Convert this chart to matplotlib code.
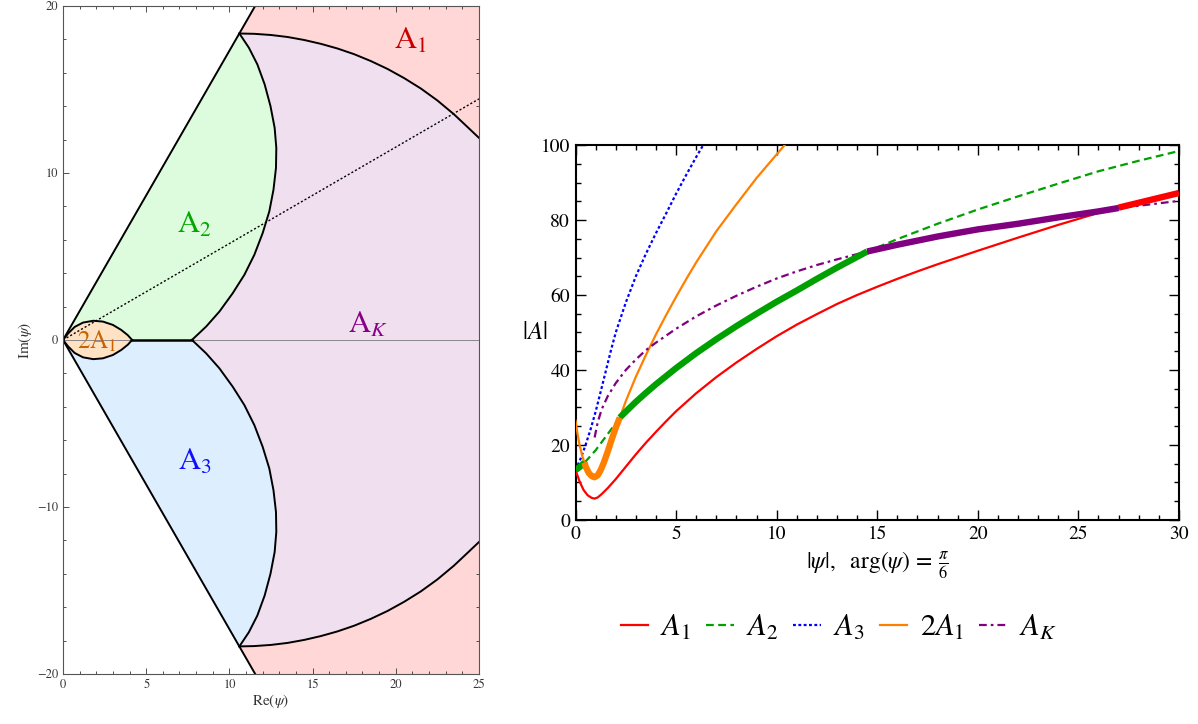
import numpy as np
import matplotlib
matplotlib.use("Agg")
import matplotlib.pyplot as plt
from matplotlib.ticker import MultipleLocator

plt.rcParams['font.family'] = ['STIXGeneral', 'DejaVu Serif']
plt.rcParams['mathtext.fontset'] = 'stix'

# ---------------- Left panel: region boundaries -------------
ray_end = (11.55, 20.0)
a2_arc_x = [7.75, 8.6, 9.4, 10.2, 10.9, 11.5, 12.0, 12.4, 12.65, 12.8, 12.82, 12.72,
            12.47, 12.12, 11.68, 11.17, 10.6]
a2_arc_y = [0.0, 0.8, 1.7, 2.8, 3.9, 5.1, 6.4, 7.7, 9.0, 10.3, 11.5, 12.7,
            14.0, 15.3, 16.5, 17.5, 18.35]
big_arc_x = [10.6, 11.5, 12.5, 13.5, 14.5, 15.5, 16.5, 17.5, 18.5, 19.5, 20.5, 21.5,
             22.5, 23.5, 24.3, 25.0]
big_arc_y = [18.35, 18.33, 18.26, 18.14, 17.96, 17.73, 17.45, 17.11, 16.70, 16.23, 15.68,
             15.06, 14.34, 13.51, 12.76, 12.1]
lens_x = [0.0, 0.3, 0.7, 1.2, 1.82, 2.4, 3.0, 3.5, 3.9, 4.15]
lens_y = [0.0, 0.38, 0.78, 1.04, 1.15, 1.1, 0.9, 0.6, 0.28, 0.0]
stokes_start = 7.75
dotted_angle_deg = 30

left_labels = [r'$\mathrm{A}_1$', r'$\mathrm{A}_2$', r'$\mathrm{A}_3$', r'$\mathrm{A}_K$', r'$2\mathrm{A}_1$']
left_label_pos = [(20.9, 17.9), (7.9, 6.9), (7.9, -7.3), (18.3, 0.9), (2.05, -0.1)]
left_label_col = ['#C80000', '#00A800', '#1010FF', '#880088', '#C86400']
left_label_size = [22, 22, 22, 22, 18]

# ---------------- Right panel: curves |A| vs |psi| -----------------------------
a1_x = [0, 0.2, 0.4, 0.6, 0.8, 0.95, 1.1, 1.3, 1.6, 2.0, 2.5, 3.0, 3.5, 4.0, 4.5, 5.0,
        6.0, 7.0, 8.0, 9.0, 10.0, 11.0, 12.0, 13.0, 14.0, 15.0, 16.0, 17.0, 18.0, 19.0,
        20.0, 22.0, 24.0, 26.0, 27.0, 28.0, 30.0]
a1_y = [13.3, 10.3, 8.0, 6.6, 5.9, 5.7, 6.0, 6.9, 8.5, 10.9, 14.2, 17.5, 20.6, 23.5, 26.3, 29.0,
        33.8, 38.1, 42.0, 45.6, 49.0, 52.1, 54.9, 57.6, 60.0, 62.2, 64.3, 66.3, 68.2, 70.0,
        71.8, 75.3, 78.7, 81.9, 83.3, 84.6, 87.2]

a2_x = [0, 0.2, 0.45, 0.7, 1.0, 1.5, 2.0, 2.2, 2.5, 3.0, 3.5, 4.0, 5.0, 6.0, 7.0, 8.0, 9.0,
        10.0, 11.0, 12.0, 13.0, 14.5, 16.0, 18.0, 20.0, 22.0, 24.0, 26.0, 28.0, 30.0]
a2_y = [13.3, 14.1, 15.3, 16.8, 18.6, 22.2, 25.8, 27.3, 28.9, 31.5, 33.9, 36.2, 40.5, 44.5,
        48.2, 51.7, 55.0, 58.2, 61.2, 64.3, 67.3, 71.6, 74.9, 79.0, 82.8, 86.3, 89.7, 93.0,
        95.8, 98.4]

a3_x = [0, 0.25, 0.5, 0.75, 1.0, 1.25, 1.5, 1.75, 2.0, 2.5, 3.0, 3.5, 4.0, 4.5, 5.0, 5.5,
        6.0, 6.35]
a3_y = [13.3, 16.3, 20.0, 24.2, 28.9, 34.2, 39.6, 45.0, 50.0, 58.0, 65.0, 71.0, 76.5, 81.7,
        87.0, 92.0, 96.8, 100.0]

twoa1_x = [0, 0.1, 0.2, 0.35, 0.45, 0.5, 0.65, 0.8, 0.95, 1.1, 1.25, 1.4, 1.6, 1.8, 2.0,
           2.2, 2.5, 3.0, 3.5, 4.0, 4.5, 5.0, 5.5, 6.0, 7.0, 8.0, 9.0, 10.0, 10.4]
twoa1_y = [26.5, 23.0, 20.0, 16.8, 15.3, 14.3, 12.6, 11.7, 11.4, 11.9, 13.3, 15.2, 18.2,
           21.5, 24.6, 27.3, 31.7, 38.2, 44.0, 49.5, 54.6, 59.5, 64.2, 68.7, 77.0, 84.2,
           91.2, 97.5, 100.0]

ak_x = [0.95, 1.1, 1.3, 1.6, 2.0, 2.5, 3.0, 3.5, 4.0, 5.0, 6.0, 7.0, 8.0, 9.0, 10.0, 11.0,
        12.0, 13.0, 14.5, 16.0, 18.0, 20.0, 22.0, 24.0, 26.0, 27.0, 28.0, 30.0]
ak_y = [22.0, 26.0, 29.5, 33.0, 36.5, 40.0, 42.8, 45.3, 47.3, 51.0, 54.3, 57.2, 59.8, 62.2,
        64.4, 66.3, 68.0, 69.5, 71.6, 73.4, 75.6, 77.5, 79.0, 80.7, 82.3, 83.2, 83.8, 85.1]

series_names = [r'$A_1$', r'$A_2$', r'$A_3$', r'$2A_1$', r'$A_K$']
series_colors = ['#FF0000', '#00A000', '#0000FF', '#FF8000', '#800080']
# x-ranges where each series is the dominant saddle along arg(psi)=pi/6
thick_ranges = {0: [(27.0, 30.0)], 1: [(0.0, 0.45), (2.2, 14.5)], 2: [],
                3: [(0.45, 2.2)], 4: [(14.5, 27.0)]}

fig = plt.figure(figsize=(11.98, 7.24), dpi=100)

# ===================== Left panel =====================
axL = fig.add_axes([0.0526, 0.0691, 0.3472, 0.9227])
axL.set_xlim(0, 25)
axL.set_ylim(-20, 20)

ax2 = np.array(a2_arc_x); ay2 = np.array(a2_arc_y)
bx = np.array(big_arc_x); by = np.array(big_arc_y)
lx = np.array(lens_x); ly = np.array(lens_y)

# A1 (pink) : everything right of the rays
axL.fill([0, ray_end[0], 25, 25, ray_end[0]], [0, ray_end[1], 20, -20, -ray_end[1]],
         color='#FFD7D7', lw=0, zorder=1)
# A_K (lavender)
kx = np.concatenate([bx, [25], bx[::-1], ax2[::-1], ax2])
ky = np.concatenate([by, [0], -by[::-1], -ay2[::-1], ay2])
axL.fill(kx, ky, color='#F0DFEF', lw=0, zorder=2)
# A2 (green)
axL.fill(np.concatenate([[0], ax2[::-1]]), np.concatenate([[0], ay2[::-1]]),
         color='#DDFCDD', lw=0, zorder=2)
# A3 (blue)
axL.fill(np.concatenate([[0], ax2[::-1]]), np.concatenate([[0], -ay2[::-1]]),
         color='#DDEEFF', lw=0, zorder=2)
# lens 2A1
axL.fill(np.concatenate([lx, lx[::-1]]), np.concatenate([ly, -ly[::-1]]),
         color='#FFE2C4', lw=0, zorder=3)

# boundaries
blw = 1.4
axL.plot([0, 25], [0, 0], color='#888888', lw=0.7, zorder=4)
axL.plot([0, ray_end[0]], [0, ray_end[1]], color='black', lw=blw, zorder=5)
axL.plot([0, ray_end[0]], [0, -ray_end[1]], color='black', lw=blw, zorder=5)
axL.plot(ax2, ay2, color='black', lw=blw, zorder=5)
axL.plot(ax2, -ay2, color='black', lw=blw, zorder=5)
axL.plot(bx, by, color='black', lw=blw, zorder=5)
axL.plot(bx, -by, color='black', lw=blw, zorder=5)
axL.plot(lx, ly, color='black', lw=blw, zorder=5)
axL.plot(lx, -ly, color='black', lw=blw, zorder=5)
axL.plot([lens_x[-1], stokes_start], [0, 0], color='black', lw=1.8, zorder=5)
t = np.tan(np.radians(dotted_angle_deg))
axL.plot([0, 25], [0, 25 * t], color='black', lw=1.0, ls=(0, (1.5, 1.5)), zorder=6)

for s, (px, py), c, fs in zip(left_labels, left_label_pos, left_label_col, left_label_size):
    axL.text(px, py, s, color=c, fontsize=fs, ha='center', va='center', zorder=7)

axL.xaxis.set_major_locator(MultipleLocator(5))
axL.xaxis.set_minor_locator(MultipleLocator(1))
axL.yaxis.set_major_locator(MultipleLocator(10))
axL.yaxis.set_minor_locator(MultipleLocator(2))
axL.tick_params(which='both', direction='in', top=True, right=True, labelsize=9,
                colors='#333333', labelcolor='#333333', width=0.6)
axL.tick_params(which='major', length=4)
axL.tick_params(which='minor', length=2)
for sp in axL.spines.values():
    sp.set_color('#555555'); sp.set_linewidth(0.8); sp.set_zorder(10)
axL.set_xlabel(r'Re($\psi$)', fontsize=11, labelpad=1, color='#333333')
axL.set_ylabel(r'Im($\psi$)', fontsize=11, labelpad=2, color='#333333')
axL.set_xticks([0, 5, 10, 15, 20, 25])
axL.set_xticklabels(['0', '5', '10', '15', '20', '25'])
axL.set_yticks([-20, -10, 0, 10, 20])
axL.set_yticklabels(['\u221220', '\u221210', '0', '10', '20'])

# ===================== Right panel =====================
axR = fig.add_axes([0.4804, 0.2818, 0.5037, 0.5179])
axR.set_xlim(0, 30)
axR.set_ylim(0, 100)

xs = [a1_x, a2_x, a3_x, twoa1_x, ak_x]
ys = [a1_y, a2_y, a3_y, twoa1_y, ak_y]
styles = ['-', (0, (3.5, 2.0)), (0, (1.3, 1.1)), '-', (0, (3.5, 1.8, 1.2, 1.8))]
handles = []
for i in range(5):
    x = np.array(xs[i]); y = np.array(ys[i])
    h, = axR.plot(x, y, color=series_colors[i], lw=1.6, ls=styles[i],
                  label=series_names[i], zorder=3)
    handles.append(h)
    for (lo, hi) in thick_ranges[i]:
        m = (x >= lo - 1e-9) & (x <= hi + 1e-9)
        axR.plot(x[m], y[m], color=series_colors[i], lw=4.6, solid_capstyle='butt',
                 solid_joinstyle='round', zorder=4)

axR.xaxis.set_major_locator(MultipleLocator(5))
axR.xaxis.set_minor_locator(MultipleLocator(1))
axR.yaxis.set_major_locator(MultipleLocator(20))
axR.yaxis.set_minor_locator(MultipleLocator(5))
axR.tick_params(which='both', direction='in', top=True, right=True, labelsize=14,
                width=1.0, pad=4)
axR.tick_params(which='major', length=7)
axR.tick_params(which='minor', length=3.5)
for sp in axR.spines.values():
    sp.set_linewidth(1.5)
axR.set_xlabel(r'$|\psi|,\ \ \mathrm{arg}(\psi)\,=\,\frac{\pi}{6}$', fontsize=17, labelpad=5)
axR.set_ylabel(r'$|A|$', fontsize=18, rotation=0, labelpad=4, va='center')

fig.legend(handles=handles, labels=series_names, loc='center', bbox_to_anchor=(0.700, 0.133),
           ncol=5, frameon=False, fontsize=22, handlelength=0.9, handletextpad=0.4,
           columnspacing=0.5)

fig.savefig('out.png', dpi=100)
